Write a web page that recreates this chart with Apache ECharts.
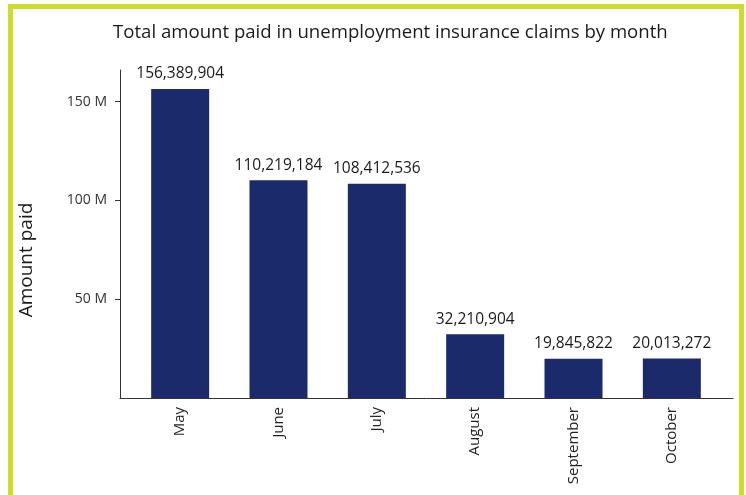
<!DOCTYPE html>
<html>
<head>
<meta charset="utf-8">
<script src="https://cdn.jsdelivr.net/npm/echarts@6/dist/echarts.min.js"></script>
<style>
  html, body { margin: 0; padding: 0; background: #fff; }
  #chart { width: 746px; height: 495px; }
  #frame {
    position: absolute; left: 8px; top: 4px; width: 726px; height: 520px;
    border: 5px solid #cddc2b; border-bottom: none; pointer-events: none;
  }
</style>
</head>
<body>
<div id="chart"></div>
<div id="frame"></div>
<script>
// Monthly unemployment insurance payouts
const months = ['May', 'June', 'July', 'August', 'September', 'October'];
const amountPaid = [156389904, 110219184, 108412536, 32210904, 19845822, 20013272];
const yTicks = [50000000, 100000000, 150000000];

const FONT = '"Open Sans"';
const chart = echarts.init(document.getElementById('chart'));

chart.setOption({
  animation: false,
  title: {
    text: 'Total amount paid in unemployment insurance claims by month',
    left: 108,
    top: 18,
    textStyle: { fontFamily: FONT, fontSize: 18.6, fontWeight: 'normal', color: '#1a1a1a' }
  },
  grid: [
    { left: 131, right: 25, top: 70, bottom: 97 },
    { left: 120, right: 13, top: 122, bottom: 97 }
  ],
  xAxis: [
    {
      type: 'category',
      data: months,
      gridIndex: 0,
      axisLine: { show: false },
      axisTick: { show: false },
      axisLabel: {
        rotate: 90, margin: 9,
        fontFamily: FONT, fontSize: 15, color: '#222'
      }
    },
    {
      // full-width baseline under the bars
      type: 'value',
      gridIndex: 1,
      axisLine: { show: true, onZero: false, lineStyle: { color: '#333', width: 1 } },
      axisTick: { show: false },
      axisLabel: { show: false },
      splitLine: { show: false }
    }
  ],
  yAxis: [
    {
      type: 'value',
      gridIndex: 0,
      min: 0,
      max: 166000000,
      offset: 11,
      axisLine: { show: true, lineStyle: { color: '#333', width: 1 } },
      axisTick: { show: true, length: 5, customValues: yTicks, lineStyle: { color: '#333' } },
      axisLabel: {
        customValues: yTicks,
        margin: 13,
        fontFamily: FONT, fontSize: 14, color: '#333',
        formatter: v => (v / 1e6) + ' M'
      },
      splitLine: { show: false }
    },
    {
      type: 'value',
      gridIndex: 1,
      name: 'Amount paid',
      nameLocation: 'middle',
      nameGap: 84,
      nameTextStyle: { fontFamily: FONT, fontSize: 19, color: '#1a1a1a' },
      axisLine: { show: false },
      axisTick: { show: false },
      axisLabel: { show: false },
      splitLine: { show: false }
    }
  ],
  series: [{
    type: 'bar',
    xAxisIndex: 0,
    yAxisIndex: 0,
    data: amountPaid,
    barWidth: 58,
    itemStyle: { color: '#1b2a6b' },
    label: {
      show: true,
      position: 'top',
      distance: 7,
      fontFamily: FONT, fontSize: 15.5, color: '#1a1a1a',
      formatter: p => p.value.toLocaleString('en-US')
    }
  }]
});
</script>
</body>
</html>
